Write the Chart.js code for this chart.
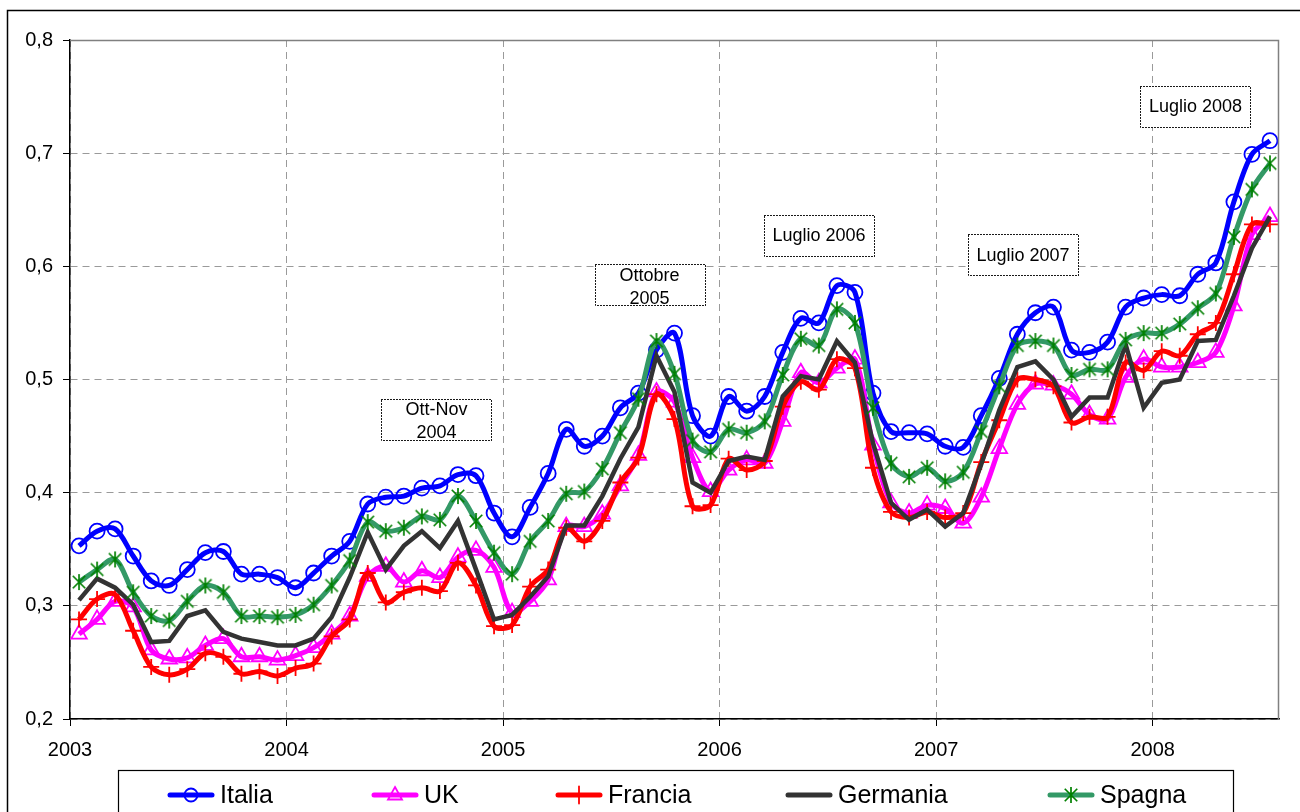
<!DOCTYPE html>
<html>
<head>
<meta charset="utf-8">
<title>Italia, UK, Francia, Germania, Spagna 2003-2008</title>
<script src="https://cdn.jsdelivr.net/npm/chart.js@4.4.1/dist/chart.umd.min.js"></script>
<style>
    html, body { margin: 0; padding: 0; background: #fff; }
    #wrap { position: relative; width: 1300px; height: 812px; overflow: hidden; }
</style>
</head>
<body>
<div id="wrap"><canvas id="chart" width="1300" height="812"></canvas></div>
<script>
// monthly values, Jan 2003 .. Jul 2008
var italia = [
    0.353, 0.366, 0.368, 0.344, 0.322, 0.318, 0.332, 0.347, 0.348, 0.328, 0.328, 0.325,
    0.316, 0.329, 0.344, 0.357, 0.390, 0.396, 0.397, 0.404, 0.406, 0.416, 0.415, 0.382,
    0.361, 0.387, 0.417, 0.456, 0.441, 0.450, 0.475, 0.488, 0.526, 0.541, 0.468, 0.450,
    0.485, 0.472, 0.485, 0.524, 0.554, 0.550, 0.583, 0.577, 0.488, 0.454, 0.453, 0.452,
    0.441, 0.440, 0.468, 0.501, 0.540, 0.559, 0.564, 0.526, 0.524, 0.533, 0.564, 0.572,
    0.575, 0.574, 0.593, 0.603, 0.657, 0.699, 0.711
];
var uk = [
    0.275, 0.288, 0.304, 0.299, 0.261, 0.253, 0.254, 0.265, 0.271, 0.255, 0.255, 0.252,
    0.256, 0.263, 0.275, 0.291, 0.326, 0.335, 0.321, 0.331, 0.325, 0.343, 0.349, 0.334,
    0.294, 0.304, 0.323, 0.370, 0.370, 0.381, 0.406, 0.433, 0.489, 0.480, 0.431, 0.401,
    0.420, 0.429, 0.426, 0.463, 0.506, 0.497, 0.510, 0.518, 0.442, 0.391, 0.382, 0.389,
    0.386, 0.373, 0.396, 0.439, 0.478, 0.496, 0.495, 0.487, 0.469, 0.465, 0.502, 0.518,
    0.511, 0.511, 0.515, 0.524, 0.565, 0.628, 0.644
];
var francia = [
    0.288, 0.306, 0.310, 0.278, 0.246, 0.239, 0.244, 0.258, 0.255, 0.240, 0.242, 0.238,
    0.245, 0.249, 0.273, 0.288, 0.329, 0.303, 0.312, 0.316, 0.313, 0.338, 0.318, 0.282,
    0.283, 0.317, 0.332, 0.369, 0.357, 0.375, 0.409, 0.431, 0.487, 0.465, 0.388, 0.389,
    0.430, 0.420, 0.428, 0.476, 0.498, 0.491, 0.518, 0.510, 0.422, 0.383, 0.378, 0.383,
    0.378, 0.382, 0.427, 0.464, 0.500, 0.500, 0.494, 0.462, 0.467, 0.467, 0.515, 0.508,
    0.525, 0.521, 0.540, 0.550, 0.593, 0.637, 0.637
];
var germania = [
    0.305, 0.324, 0.316, 0.301, 0.268, 0.269, 0.291, 0.296, 0.277, 0.271, 0.268, 0.265,
    0.265, 0.271, 0.290, 0.325, 0.365, 0.332, 0.353, 0.366, 0.351, 0.375, 0.332, 0.288,
    0.292, 0.308, 0.326, 0.371, 0.371, 0.397, 0.430, 0.458, 0.521, 0.489, 0.409, 0.400,
    0.428, 0.432, 0.429, 0.485, 0.503, 0.500, 0.534, 0.515, 0.444, 0.391, 0.376, 0.385,
    0.370, 0.382, 0.425, 0.473, 0.511, 0.516, 0.500, 0.467, 0.484, 0.484, 0.531, 0.475,
    0.497, 0.500, 0.534, 0.535, 0.574, 0.616, 0.644
];
var spagna = [
    0.321, 0.332, 0.341, 0.312, 0.291, 0.287, 0.304, 0.318, 0.312, 0.291, 0.291, 0.290,
    0.292, 0.301, 0.318, 0.340, 0.374, 0.366, 0.369, 0.379, 0.376, 0.397, 0.375, 0.347,
    0.328, 0.357, 0.375, 0.399, 0.401, 0.421, 0.453, 0.483, 0.534, 0.505, 0.446, 0.436,
    0.456, 0.453, 0.463, 0.504, 0.536, 0.530, 0.562, 0.550, 0.475, 0.426, 0.414, 0.422,
    0.410, 0.418, 0.454, 0.494, 0.530, 0.534, 0.530, 0.504, 0.509, 0.509, 0.535, 0.541,
    0.541, 0.549, 0.563, 0.576, 0.626, 0.668, 0.691
];

var seriesNames = ['Italia', 'UK', 'Francia', 'Germania', 'Spagna'];
var yearTicks = [0, 12, 24, 36, 48, 60];
var yearLabels = ['2003', '2004', '2005', '2006', '2007', '2008'];
var yTicks = [0.2, 0.3, 0.4, 0.5, 0.6, 0.7, 0.8];
var yTickLabels = ['0,2', '0,3', '0,4', '0,5', '0,6', '0,7', '0,8'];
var noteLabels = [['Ott-Nov', '2004'], ['Ottobre', '2005'], ['Luglio 2006'], ['Luglio 2007'], ['Luglio 2008']];

(function () {
    var FONT = 'Arial, "Liberation Sans", sans-serif';

    // excel-like asterisk marker (vertical + X)
    function asterisk(color, size) {
        var c = document.createElement('canvas');
        c.width = size;
        c.height = size;
        var g = c.getContext('2d');
        var m = size / 2, r = size / 2 - 1, d = r * 0.78;
        g.strokeStyle = color;
        g.lineWidth = 1.7;
        g.beginPath();
        g.moveTo(m, m - r); g.lineTo(m, m + r);
        g.moveTo(m - d, m - d); g.lineTo(m + d, m + d);
        g.moveTo(m + d, m - d); g.lineTo(m - d, m + d);
        g.stroke();
        return c;
    }
    var starImg = asterisk('#008000', 18);

    function points(values) {
        return values.map(function (v, i) {
            return { x: i + 0.5, y: v };
        });
    }

    var styles = [
        { line: '#0000ff', mark: '#0000ff', point: 'circle', r: 7.5, width: 5, order: 5, tension: 0.33 },
        { line: '#ff00ff', mark: '#ff00ff', point: 'triangle', r: 9, width: 5, order: 4, tension: 0.33 },
        { line: '#ff0000', mark: '#ff0000', point: 'cross', r: 8, width: 5, order: 3, tension: 0.33 },
        { line: '#333333', mark: '#333333', point: false, r: 0, width: 4.5, order: 2, tension: 0 },
        { line: '#339966', mark: '#008000', point: starImg, r: 9, width: 5, order: 1, tension: 0.33 }
    ];
    var allValues = [italia, uk, francia, germania, spagna];

    var datasets = allValues.map(function (vals, k) {
        var s = styles[k];
        return {
            label: seriesNames[k],
            data: points(vals),
            borderColor: s.line,
            borderWidth: s.width,
            tension: s.tension,
            pointStyle: s.point,
            pointRadius: s.r,
            pointBorderColor: s.mark,
            pointBackgroundColor: 'rgba(0,0,0,0)',
            pointBorderWidth: 1.8,
            order: s.order,
            fill: false
        };
    });

    function drawMarker(ctx, type, x, y, color) {
        ctx.save();
        ctx.strokeStyle = color;
        ctx.lineWidth = 1.8;
        ctx.beginPath();
        if (type === 'circle') {
            ctx.arc(x, y, 6.5, 0, Math.PI * 2);
        } else if (type === 'triangle') {
            ctx.moveTo(x, y - 8);
            ctx.lineTo(x + 7, y + 4.5);
            ctx.lineTo(x - 7, y + 4.5);
            ctx.closePath();
        } else if (type === 'cross') {
            ctx.moveTo(x, y - 8.5); ctx.lineTo(x, y + 8.5);
        }
        ctx.stroke();
        ctx.restore();
    }

    var frame = {
        id: 'frame',
        beforeDraw: function (chart) {
            var ctx = chart.ctx;
            ctx.save();
            ctx.fillStyle = '#fff';
            ctx.fillRect(0, 0, chart.width, chart.height);
            ctx.strokeStyle = '#000';
            ctx.lineWidth = 1.5;
            ctx.strokeRect(7.5, 10.5, 1400, 900);
            ctx.restore();
        },
        afterDraw: function (chart) {
            var ctx = chart.ctx;
            var a = chart.chartArea;
            ctx.save();
            // plot area border (top / right)
            ctx.strokeStyle = '#808080';
            ctx.lineWidth = 1.5;
            ctx.beginPath();
            ctx.moveTo(a.left, a.top + 0.5);
            ctx.lineTo(a.right - 0.5, a.top + 0.5);
            ctx.lineTo(a.right - 0.5, a.bottom);
            ctx.stroke();

            // legend
            var lx = [168, 372, 556, 786, 1048];
            var ly = 795;
            ctx.fillStyle = '#fff';
            ctx.fillRect(119, 770, 1116, 60);
            ctx.strokeStyle = '#000';
            ctx.lineWidth = 1.2;
            ctx.strokeRect(118.5, 770.5, 1115, 60);
            seriesNames.forEach(function (name, k) {
                var s = styles[k];
                var x0 = lx[k];
                ctx.strokeStyle = s.line;
                ctx.lineWidth = 5;
                ctx.lineCap = 'round';
                ctx.beginPath();
                ctx.moveTo(x0 + 2, ly);
                ctx.lineTo(x0 + 44, ly);
                ctx.stroke();
                if (s.point === starImg) {
                    ctx.drawImage(starImg, x0 + 23 - 9, ly - 9);
                } else if (s.point) {
                    drawMarker(ctx, s.point, x0 + 23, ly, s.mark);
                }
                ctx.fillStyle = '#000';
                ctx.font = '25px ' + FONT;
                ctx.textAlign = 'left';
                ctx.textBaseline = 'middle';
                ctx.fillText(name, x0 + 52, ly + 1);
            });

            // annotation boxes, anchored on month index / value
            var xs = chart.scales.x, ys = chart.scales.y;
            var anchors = [[20.31, 0.465], [32.12, 0.5836], [41.51, 0.6274], [52.81, 0.6102], [62.37, 0.7416]];
            ctx.font = '18px ' + FONT;
            ctx.textAlign = 'center';
            ctx.textBaseline = 'middle';
            noteLabels.forEach(function (lines, k) {
                var cx = xs.getPixelForValue(anchors[k][0]);
                var cy = ys.getPixelForValue(anchors[k][1]);
                var bx = Math.round(cx - 55) + 0.5, by = Math.round(cy - 20.5) + 0.5;
                ctx.fillStyle = '#fff';
                ctx.fillRect(bx, by, 110, 41);
                ctx.strokeStyle = '#000';
                ctx.lineWidth = 1;
                ctx.setLineDash([1, 2]);
                ctx.strokeRect(bx, by, 110, 41);
                ctx.setLineDash([]);
                ctx.fillStyle = '#000';
                if (lines.length === 1) {
                    ctx.fillText(lines[0], cx, cy + 1);
                } else {
                    ctx.fillText(lines[0], cx, cy - 9);
                    ctx.fillText(lines[1], cx, cy + 14);
                }
            });
            ctx.restore();
        }
    };

    new Chart(document.getElementById('chart').getContext('2d'), {
        type: 'line',
        data: { datasets: datasets },
        plugins: [frame],
        options: {
            responsive: false,
            animation: false,
            devicePixelRatio: 1,
            layout: { padding: { left: 0, top: 40, right: 21, bottom: 0 } },
            plugins: {
                legend: { display: false },
                tooltip: { enabled: false }
            },
            scales: {
                x: {
                    type: 'linear',
                    min: 0,
                    max: 67,
                    afterBuildTicks: function (scale) {
                        scale.ticks = yearTicks.map(function (v) { return { value: v }; });
                    },
                    afterFit: function (scale) { scale.height = 93; },
                    ticks: {
                        color: '#000',
                        font: { family: FONT, size: 20 },
                        padding: 12,
                        maxRotation: 0,
                        callback: function (value) {
                            var i = yearTicks.indexOf(value);
                            return i >= 0 ? yearLabels[i] : '';
                        }
                    },
                    grid: { color: '#9a9a9a', lineWidth: 1, tickLength: 7, tickColor: '#000' },
                    border: { color: '#000', width: 1.5, dash: [7, 5] }
                },
                y: {
                    min: 0.2,
                    max: 0.8,
                    afterBuildTicks: function (scale) {
                        scale.ticks = yTicks.map(function (v) { return { value: v }; });
                    },
                    afterFit: function (scale) { scale.width = 70; },
                    ticks: {
                        color: '#000',
                        font: { family: FONT, size: 20 },
                        padding: 10,
                        callback: function (value) {
                            for (var i = 0; i < yTicks.length; i++) {
                                if (Math.abs(yTicks[i] - value) < 1e-6) return yTickLabels[i];
                            }
                            return '';
                        }
                    },
                    grid: { color: '#9a9a9a', lineWidth: 1, tickLength: 7, tickColor: '#000' },
                    border: { color: '#000', width: 1.5, dash: [7, 5] }
                }
            }
        }
    });
})();
</script>
</body>
</html>
